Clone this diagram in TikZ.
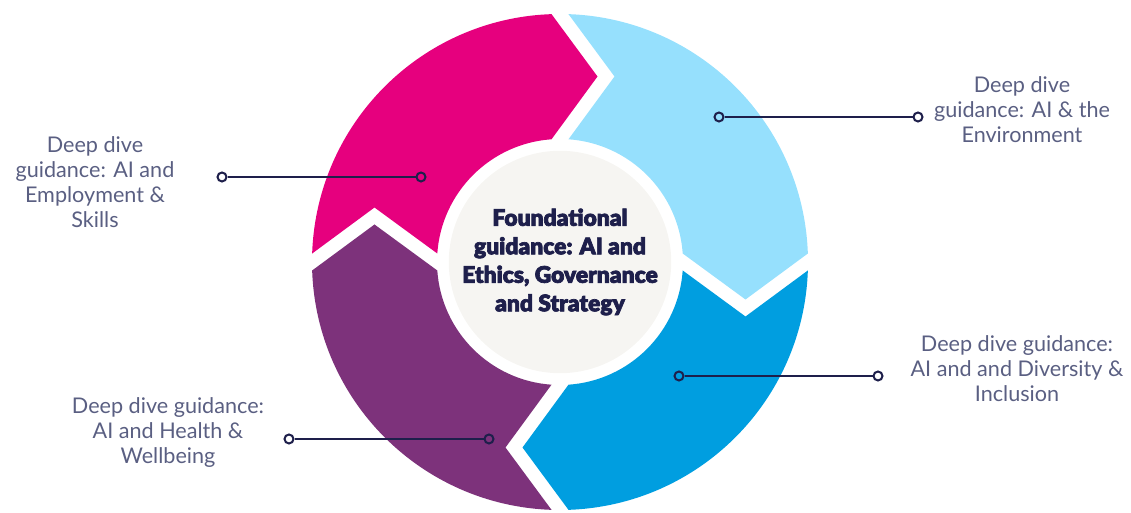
\documentclass[tikz,border=0pt]{standalone}
\usepackage{fontspec}
\setmainfont{Lato}
\newfontfamily\labelfont{Lato}
\newfontfamily\heavyfont{Lato Black}[FakeBold=3]
\definecolor{ringMagenta}{HTML}{E6007E}
\definecolor{ringSky}{HTML}{96E0FD}
\definecolor{ringBlue}{HTML}{009EE0}
\definecolor{ringPurple}{HTML}{7D327B}
\definecolor{coreGrey}{HTML}{F6F5F2}
\definecolor{inkNavy}{HTML}{1E1F4B}
\definecolor{labelGrey}{HTML}{5A5F82}
\tikzset{
  leader/.style={line width=1pt, color=inkNavy},
  pin/.style={circle, draw=inkNavy, line width=1pt, minimum size=4.5pt, inner sep=0pt},
  guidance/.style={align=center, text=labelGrey, font=\labelfont\fontsize{10.8}{12.5}\selectfont},
  core/.style={circle, fill=coreGrey, minimum size=110pt, inner sep=0pt, align=center, text=inkNavy, font=\heavyfont\fontsize{11.4}{14.25}\selectfont}
}
\begin{document}
\begin{tikzpicture}[x=0.5pt,y=0.5pt]
\useasboundingbox (0,0) rectangle (1131,513);
\coordinate (C) at (560,251);

% ring of arrows
\foreach \rot/\col in {0/ringMagenta,-90/ringSky,-180/ringBlue,-270/ringPurple}{
  \fill[color=\col, shift={(560,251)}, rotate=\rot] (178.04:248) arc[start angle=178.04, end angle=91.96, radius=248] -- (37.5,185.5) -- (93.96:123) arc[start angle=93.96, end angle=176.04, radius=123] -- (-185.5,54.5) -- cycle;
}

\node[core] (core) at (C) {Foundational\\guidance: AI and\\Ethics, Governance\\and Strategy};

% leaders
\node[pin, fill=white] (empOut) at (222,336) {};
\node[pin] (empIn) at (421,336) {};
\draw[leader] (empOut) -- (empIn);
\node[guidance] (emp) at (95,331) {Deep dive\\guidance: AI and\\Employment \&\\Skills};

\node[pin] (envIn) at (719,396) {};
\node[pin, fill=white] (envOut) at (918,396) {};
\draw[leader] (envIn) -- (envOut);
\node[guidance] (env) at (1022,403) {Deep dive\\guidance: AI \& the\\Environment};

\node[pin] (divIn) at (679,137) {};
\node[pin, fill=white] (divOut) at (878,137) {};
\draw[leader] (divIn) -- (divOut);
\node[guidance] (div) at (1017,144) {Deep dive guidance:\\AI and and Diversity \&\\Inclusion};

\node[pin, fill=white] (hlthOut) at (289,74) {};
\node[pin] (hlthIn) at (489,74) {};
\draw[leader] (hlthOut) -- (hlthIn);
\node[guidance] (hlth) at (168,80) {Deep dive guidance:\\AI and Health \&\\Wellbeing};

\end{tikzpicture}
\end{document}
